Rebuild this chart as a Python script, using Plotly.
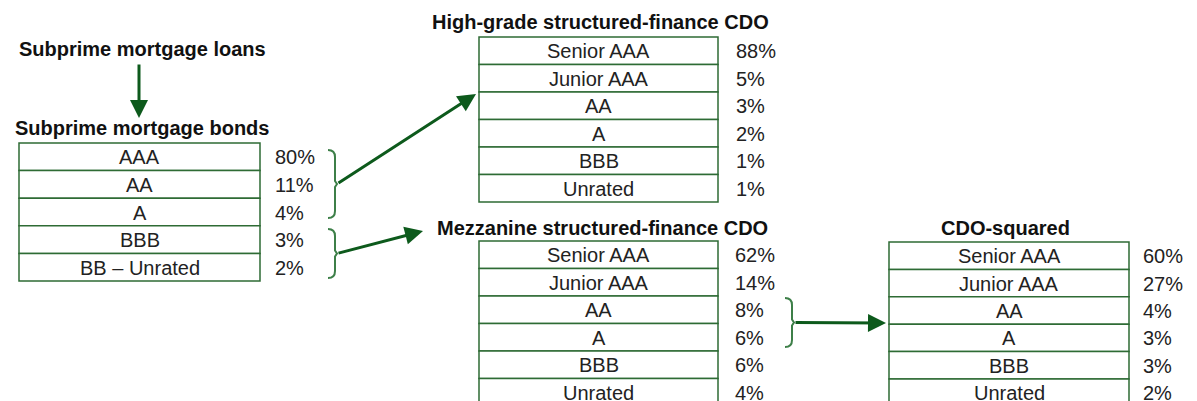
import plotly.graph_objects as go

# ---------------- data ----------------
bond_labels = ["AAA", "AA", "A", "BBB", "BB – Unrated"]
bond_pct = [80, 11, 4, 3, 2]

cdo_labels = ["Senior AAA", "Junior AAA", "AA", "A", "BBB", "Unrated"]
highgrade_pct = [88, 5, 3, 2, 1, 1]
mezzanine_pct = [62, 14, 8, 6, 6, 4]
squared_pct = [60, 27, 4, 3, 3, 2]

titles = {
    "loans": "Subprime mortgage loans",
    "bonds": "Subprime mortgage bonds",
    "hg": "High-grade structured-finance CDO",
    "mz": "Mezzanine structured-finance CDO",
    "sq": "CDO-squared",
}

# ---------------- styling / layout constants ----------------
W, H = 1197, 401
OFF = 8  # page body margin compensation
BOX_COLOR = "#2e6b34"
ARROW_COLOR = "#0d5a1c"
BRACKET_COLOR = "#3d7f48"
FONT = "Liberation Sans, Arial, sans-serif"
TEXT_SIZE = 20
TITLE_SIZE = 20

fig = go.Figure()
shapes = []
annotations = []


def add_table(labels, pcts, x0, x1, top, rh, pct_x):
    for i, (lab, p) in enumerate(zip(labels, pcts)):
        y0 = top + i * rh
        y1 = y0 + rh
        shapes.append(dict(type="rect", x0=x0, x1=x1, y0=y0, y1=y1,
                           line=dict(color=BOX_COLOR, width=1.5),
                           fillcolor="white", layer="below"))
        annotations.append(dict(x=(x0 + x1) / 2, y=(y0 + y1) / 2 + 0.5, text=lab,
                                showarrow=False, xanchor="center", yanchor="middle",
                                font=dict(size=TEXT_SIZE, color="#222", family=FONT)))
        annotations.append(dict(x=pct_x, y=(y0 + y1) / 2 + 0.5, text=f"{p}%",
                                showarrow=False, xanchor="left", yanchor="middle",
                                font=dict(size=TEXT_SIZE, color="#222", family=FONT)))


def add_title(text, x, y):
    annotations.append(dict(x=x, y=y, text=f"<b>{text}</b>", showarrow=False,
                            xanchor="center", yanchor="middle",
                            font=dict(size=TITLE_SIZE, color="#111", family=FONT)))


def add_bracket(x0, y0, y1, w=7):
    ym = (y0 + y1) / 2
    xr = x0 + w
    path = (f"M {x0},{y0} Q {xr},{y0} {xr},{y0+7} L {xr},{ym-3} "
            f"L {xr+2},{ym} L {xr},{ym+3} L {xr},{y1-7} Q {xr},{y1} {x0},{y1}")
    shapes.append(dict(type="path", path=path,
                       line=dict(color=BRACKET_COLOR, width=2)))
    return xr + 2, ym


def add_arrow(tx, ty, hx, hy):
    annotations.append(dict(x=hx, y=hy, ax=tx, ay=ty, xref="x", yref="y",
                            axref="x", ayref="y", text="", showarrow=True,
                            arrowhead=2, arrowsize=1.2, arrowwidth=3,
                            arrowcolor=ARROW_COLOR))


# tables
add_table(bond_labels, bond_pct, 19, 260, 143, 27.6, 273)
add_table(cdo_labels, highgrade_pct, 479, 718, 37, 27.5, 734)
add_table(cdo_labels, mezzanine_pct, 479, 718, 241, 27.5, 733)
add_table(cdo_labels, squared_pct, 889, 1129, 242, 27.4, 1141)

# titles
add_title(titles["loans"], 142, 49)
add_title(titles["bonds"], 142, 128)
add_title(titles["hg"], 600, 22)
add_title(titles["mz"], 602, 228)
add_title(titles["sq"], 1005, 228)

# brackets
bx1, by1 = add_bracket(328, 150, 218)
bx2, by2 = add_bracket(328, 229, 278)
bx3, by3 = add_bracket(785, 298, 347)

# arrows
add_arrow(139, 63, 139, 118)
add_arrow(bx1, by1, 476, 94)
add_arrow(bx2, by2, 423, 231)
add_arrow(bx3, by3, 886, 323)

fig.update_layout(
    width=W, height=H,
    margin=dict(l=0, r=0, t=0, b=0),
    paper_bgcolor="white", plot_bgcolor="white",
    xaxis=dict(range=[OFF, W + OFF], visible=False, fixedrange=True),
    yaxis=dict(range=[H + OFF, OFF], visible=False, fixedrange=True),
    shapes=shapes, annotations=annotations,
    showlegend=False,
)

fig.write_html("out.html")
